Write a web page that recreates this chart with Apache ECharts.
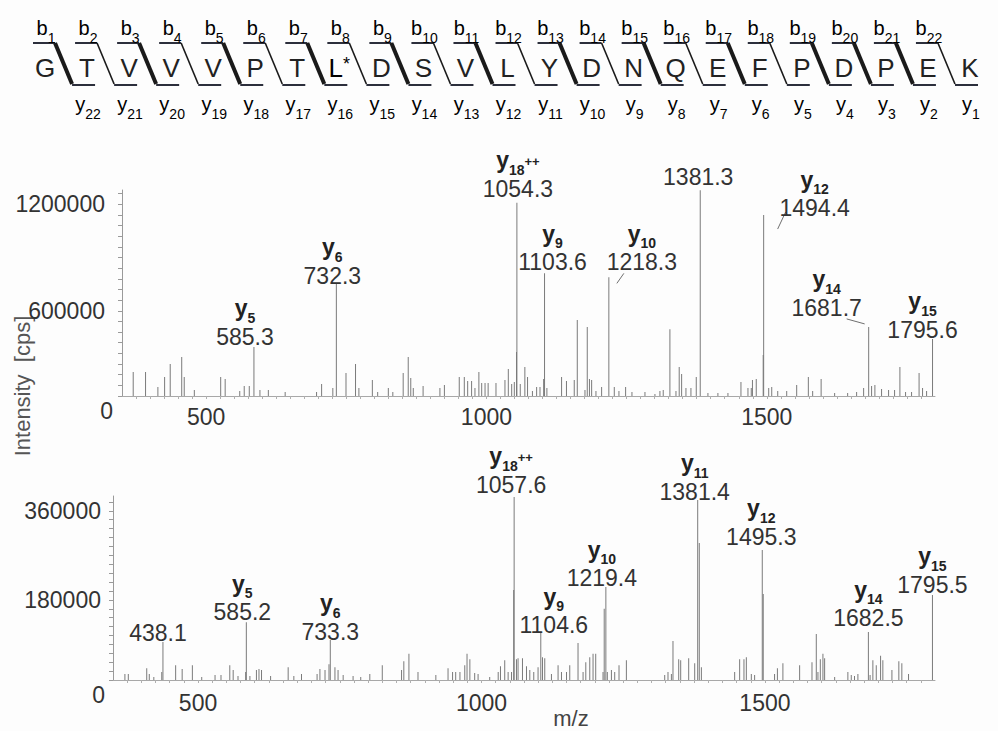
<!DOCTYPE html>
<html><head><meta charset="utf-8">
<script src="https://cdn.jsdelivr.net/npm/echarts@6/dist/echarts.min.js"></script>
<style>html,body{margin:0;padding:0;background:#fdfdfd}#c{width:998px;height:731px}</style>
</head><body><div id="c"></div>
<script>
// ---------- data ----------
const residues = ['G','T','V','V','V','P','T','L*','D','S','V','L','Y','D','N','Q','E','F','P','D','P','E','K'];
const breakObserved = [1,0,1,0,1,0,1,0,1,0,1,0,1,0,1,0,1,0,1,1,1,0];
const modifiedResidue = 'L*';

const topPeakMz = [370,392,414,426,436,456.5,461,479,526,534,560,568,577,596,611,641,697,706,726,749.5,766.5,772.5,796.5,806,825,833,851.5,860.5,865,869.5,887,917,925,951.5,960.5,966.5,973.5,979.5,986.5,991.5,997.5,1003,1017,1033,1039,1045,1049.7,1053.6,1060.3,1068.5,1073.3,1082,1089.5,1095.5,1102,1107.8,1134,1142.7,1156.6,1162,1175.7,1179.8,1183.7,1187.6,1195.3,1205.4,1228,1236.3,1248.2,1259.5,1282.7,1300.5,1309.4,1315.3,1327.2,1338,1343.8,1348.1,1355.8,1364.7,1374.2,1395,1412.8,1430.7,1453.9,1466.4,1472.3,1474.4,1481.2,1493.6,1503.4,1508.8,1519.5,1535.5,1553.3,1574.1,1581.8,1596.9,1621,1644.2,1660.2,1672.7,1686.9,1692.8,1704.7,1717.2,1727.9,1737.4,1747.5,1758.2,1771.6,1777.8,1785];
const topPeakInt = [255000,255000,171000,227000,300000,340000,227000,154000,227000,216000,148000,176000,176000,154000,154000,143000,143000,188000,165000,250000,300000,165000,210000,143000,165000,143000,250000,340000,221000,165000,176000,165000,182000,227000,227000,204000,204000,165000,255000,193000,193000,193000,193000,210000,272000,188000,199000,368000,188000,283000,227000,148000,171000,171000,216000,165000,227000,204000,210000,548000,154000,508000,216000,210000,148000,171000,171000,148000,171000,143000,143000,131000,148000,154000,496000,148000,283000,244000,165000,165000,227000,137000,137000,137000,199000,165000,165000,210000,216000,351000,165000,171000,148000,148000,182000,227000,148000,216000,137000,137000,143000,165000,176000,182000,159000,154000,154000,283000,143000,143000,250000,165000,148000];
const topIonMz = [585.3,732.3,1054.3,1103.6,1218.3,1381.3,1494.4,1681.7,1795.6];
const topIonInt = [396000,751000,1208000,811000,788000,1278000,1139000,509000,441000];
const topIonName = ['y5','y6','y18++','y9','y10','','y12','y14','y15'];

const bottomPeakMz = [371,377,409.5,414,422,436,460.5,472,490,506.5,530,540.5,556,562,570.5,584,591.5,603,607.5,612,628,659,669,682.5,710,715,724,731,741.5,747,756,773.5,787,803,825,859,863,872,888,919.5,941,949,954.5,962,970.5,974.5,979.5,988,994,1014.5,1029.5,1033.5,1041,1047,1053,1056.8,1061.7,1064.5,1072.3,1079.4,1085.2,1092.2,1099.8,1107.6,1111.6,1123.4,1135.1,1141.1,1150,1155.7,1170.3,1179.2,1184,1191,1196.8,1201.5,1214.4,1216.5,1222,1229.2,1235,1242.6,1255.6,1323.2,1329,1335,1337.8,1347.9,1351.4,1365.5,1376.1,1384.2,1387.9,1446.6,1455.4,1463,1467.2,1476,1481.8,1497,1517,1522,1531.7,1561.2,1583,1590.6,1593.5,1597.7,1602.3,1605.3,1623,1646.3,1652.3,1658,1664,1685.5,1690.4,1696.4,1704,1708,1724,1736.2,1741.5,1753.3];
const bottomPeakInt = [30000,30000,42000,30000,24000,34000,48000,40000,48000,24000,28000,28000,48000,38000,26000,34000,26000,38000,40000,38000,26000,44000,26000,30000,30000,40000,38000,50000,44000,38000,28000,26000,24000,30000,48000,38000,56000,71000,34000,28000,42000,34000,34000,34000,48000,71000,60000,32000,30000,24000,34000,46000,58000,34000,34000,200000,60000,62000,62000,46000,38000,34000,44000,64000,62000,30000,48000,34000,34000,48000,93000,34000,54000,64000,71000,71000,34000,162000,34000,38000,34000,48000,58000,28000,34000,30000,97000,60000,58000,62000,52000,295000,44000,34000,60000,60000,64000,30000,28000,192000,30000,42000,52000,48000,54000,111000,34000,60000,71000,62000,24000,34000,28000,26000,30000,28000,58000,48000,67000,58000,38000,56000,52000,30000];
const bottomIonMz = [438.1,585.2,733.3,1057.6,1104.6,1219.4,1381.4,1495.3,1682.5,1795.5];
const bottomIonInt = [95000,135000,99000,388000,113000,206000,382000,281000,115000,190000];
const bottomIonName = ['','y5','y6','y18++','y9','y10','y11','y12','y14','y15'];

const xTickLabels = [500, 1000, 1500];
const topYLabels = [600000, 1200000];
const bottomYLabels = [180000, 360000];

// ---------- layout (not data): label shifts and leader segments in px relative to peak top ----------
const topLabelShift = [[-9,2],[-4,4],[1,-2],[8,1],[33,-3],[-2,-1],[51,5],[-42,-7],[-10,3]];
const topLeader = [null,null,null,null,[8,6,15,-4],null,[14,14,22,-3],[-22,-8,-4,-3],null];
const bottomLabelShift = [[-5,3],[-4,2],[0,4],[-3,0],[13,4],[-4,3],[-3,4],[-1,-1],[0,-2],[0,2]];
const bottomLeader = [null,null,null,null,null,null,null,null,null,null];

const FONT = "'Liberation Sans', Arial, sans-serif";
const labelRich = {
  i: {fontSize: 23, fontWeight: 'bold', color: '#222', fontFamily: FONT, lineHeight: 22, padding: [0,0,5,0], verticalAlign: 'bottom'},
  s: {fontSize: 14, fontWeight: 'bold', color: '#222', fontFamily: FONT, lineHeight: 14, verticalAlign: 'bottom'},
  p: {fontSize: 13, fontWeight: 'bold', color: '#222', fontFamily: FONT, lineHeight: 13, verticalAlign: 'top'},
  v: {fontSize: 23, color: '#333', fontFamily: FONT, lineHeight: 24}
};
function ionText(name, mz) {
  const v = '{v|' + mz.toFixed(1) + '}';
  if (!name) return v;
  const m = name.match(/^y(\d+)(\+\+)?$/);
  return '{i|y}{s|' + m[1] + '}' + (m[2] ? '{p|++}' : '') + '\n' + v;
}
function spectrumSeries(idx, peakMz, peakInt, ionMz, ionInt, ionName, shifts) {
  const data = peakMz.map((x, k) => [x, peakInt[k]]);
  const n0 = data.length;
  ionMz.forEach((x, k) => {
    data.push({value: [x, ionInt[k]], label: {show: true, formatter: ionText(ionName[k], x)}});
  });
  return {
    type: 'bar', xAxisIndex: idx, yAxisIndex: idx, barWidth: 1, data,
    itemStyle: {color: '#7a7a7a'},
    label: {show: false, position: 'top', distance: 0, align: 'center', rich: labelRich},
    labelLayout: p => { const k = p.dataIndex - n0; return k >= 0 ? {dx: shifts[k][0], dy: shifts[k][1]} : {}; },
    silent: true, animation: false
  };
}
function leaderSeries(idx, ionMz, ionInt, leaders) {
  return {
    type: 'custom', xAxisIndex: idx, yAxisIndex: idx, silent: true, clip: false,
    data: ionMz.map((x, k) => [x, ionInt[k], k]),
    encode: {x: 0, y: 1},
    renderItem: (params, api) => {
      const seg = leaders[api.value(2)];
      if (!seg) return null;
      const c = api.coord([api.value(0), api.value(1)]);
      return {type: 'line', shape: {x1: c[0] + seg[0], y1: c[1] + seg[1], x2: c[0] + seg[2], y2: c[1] + seg[3]},
              style: {stroke: '#6f6f6f', lineWidth: 1}};
    }
  };
}
function yAxisFor(idx, min, max, interval, labels, padRight, margin) {
  return {
    type: 'value', gridIndex: idx, min, max, interval,
    axisLine: {show: true, lineStyle: {color: '#9a9a9a'}},
    axisTick: {show: true, length: 4, lineStyle: {color: '#9a9a9a'}},
    splitLine: {show: false},
    axisLabel: {
      margin, showMinLabel: true, showMaxLabel: false,
      formatter: v => v === min ? '{z|0}' : (labels.includes(v) ? '{n|' + v + '}' : ''),
      rich: {
        z: {fontSize: 23, color: '#333', fontFamily: FONT, padding: [30, 0, 0, 0]},
        n: {fontSize: 23, color: '#333', fontFamily: FONT, padding: [0, padRight, 0, 0]}
      }
    }
  };
}
function xAxisFor(idx, margin) {
  return {
    type: 'value', gridIndex: idx, min: 350, max: 1800, interval: 25,
    axisLine: {lineStyle: {color: '#a8a8a8'}},
    axisTick: {length: 3, lineStyle: {color: '#b0b0b0'}},
    splitLine: {show: false},
    axisLabel: {margin, fontSize: 23, color: '#333', fontFamily: FONT, showMinLabel: false, showMaxLabel: false,
      formatter: v => xTickLabels.includes(v) ? String(v) : ''}
  };
}

function renderHeader(params, api) {
  const i = api.value(0);
  const n = residues.length;
  const p = api.coord([i, 68]);
  const yTop = api.coord([i, 43])[1], yBot = api.coord([i, 84])[1];
  const ch = [];
  const res = residues[i];
  if (res === modifiedResidue) {
    ch.push({type: 'text', style: {text: '{l|L}{a|*}', x: p[0], y: p[1], align: 'center', verticalAlign: 'middle',
      rich: {l: {fontSize: 26, fontFamily: FONT, color: '#5a68b0', verticalAlign: 'bottom', lineHeight: 26},
             a: {fontSize: 18, fontFamily: FONT, color: '#5a68b0', verticalAlign: 'top', lineHeight: 18}}}});
  } else {
    ch.push({type: 'text', style: {text: res, x: p[0], y: p[1], align: 'center', verticalAlign: 'middle',
      fontSize: 26, fontFamily: FONT, fill: '#222'}});
  }
  if (i < n - 1) {
    const q = api.coord([i + 1, 68]);
    const thick = breakObserved[i];
    ch.push({type: 'line', shape: {x1: p[0] - 12, y1: yTop, x2: p[0] + 10, y2: yTop}, style: {stroke: '#2c2f3c', lineWidth: 2}});
    ch.push({type: 'line', shape: {x1: p[0] + 10, y1: yTop, x2: q[0] - 15, y2: yBot}, style: {stroke: '#1a1a1a', lineWidth: thick ? 4 : 1.6}});
    ch.push({type: 'line', shape: {x1: q[0] - 15, y1: yBot + 1, x2: q[0] + 8, y2: yBot + 1}, style: {stroke: '#2c2f3c', lineWidth: 2}});
    const bIdx = i + 1, yIdx = n - 1 - i;
    ch.push({type: 'text', style: {text: '{m|b}{s|' + bIdx + '}', x: p[0] + 1, y: api.coord([i, 45])[1], align: 'center', verticalAlign: 'bottom',
      rich: {m: {fontSize: 20, fontFamily: FONT, color: '#222', lineHeight: 19, padding: [0, 0, 7, 0], verticalAlign: 'bottom'},
             s: {fontSize: 14, fontFamily: FONT, color: '#222', lineHeight: 14, verticalAlign: 'bottom'}}}});
    const yc = yIdx === 7 ? '#6a7090' : '#222';
    ch.push({type: 'text', style: {text: '{m|y}{s|' + yIdx + '}', x: q[0] + 1, y: api.coord([i, 121])[1], align: 'center', verticalAlign: 'bottom',
      rich: {m: {fontSize: 20, fontFamily: FONT, color: yc, lineHeight: 19, padding: [0, 0, 7, 0], verticalAlign: 'bottom'},
             s: {fontSize: 14, fontFamily: FONT, color: yc, lineHeight: 14, verticalAlign: 'bottom'}}}});
  }
  return {type: 'group', children: ch};
}

const chart = echarts.init(document.getElementById('c'), null, {renderer: 'svg'});
chart.setOption({
  backgroundColor: '#fdfdfd',
  animation: false,
  grid: [
    {left: 24, right: 7, top: 0, height: 120},
    {left: 122, right: 63, top: 190, bottom: 335},
    {left: 113, right: 63, top: 496, bottom: 51}
  ],
  xAxis: [
    {type: 'category', gridIndex: 0, data: residues, show: false},
    xAxisFor(1, 9),
    xAxisFor(2, 11)
  ],
  yAxis: [
    {type: 'value', gridIndex: 0, min: 0, max: 120, inverse: true, show: false},
    yAxisFor(1, 120000, 1280000, 60000, topYLabels, 8, 9),
    yAxisFor(2, 18000, 390000, 18000, bottomYLabels, 4, 8)
  ],
  series: [
    {type: 'custom', xAxisIndex: 0, yAxisIndex: 0, data: residues.map((r, i) => [i, 68]), encode: {x: 0, y: 1},
     renderItem: renderHeader, silent: true},
    spectrumSeries(1, topPeakMz, topPeakInt, topIonMz, topIonInt, topIonName, topLabelShift),
    spectrumSeries(2, bottomPeakMz, bottomPeakInt, bottomIonMz, bottomIonInt, bottomIonName, bottomLabelShift),
    leaderSeries(1, topIonMz, topIonInt, topLeader),
    leaderSeries(2, bottomIonMz, bottomIonInt, bottomLeader)
  ],
  graphic: [
    {type: 'text', x: 22, y: 386, rotation: Math.PI / 2,
     style: {text: 'Intensity  [cps]', fontSize: 22, fontFamily: FONT, fill: '#555', align: 'center', verticalAlign: 'middle'}},
    {type: 'text', x: 571, y: 718,
     style: {text: 'm/z', fontSize: 22, fontFamily: FONT, fill: '#444', align: 'center', verticalAlign: 'middle'}}
  ]
});
</script></body></html>
